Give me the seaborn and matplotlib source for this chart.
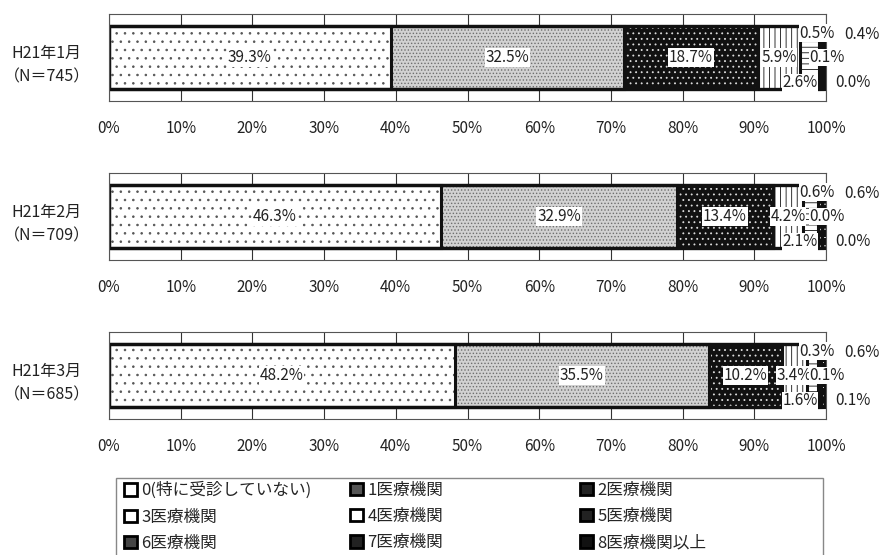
import matplotlib
matplotlib.use('Agg')
import matplotlib.pyplot as plt
from matplotlib.patches import Patch, Rectangle
import numpy as np
import pandas as pd
import seaborn as sns

sns.set_style("white")
# 日本語フォントの設定（set_style の後で指定する）
plt.rcParams['font.family'] = ['Noto Sans CJK JP', 'DejaVu Sans']
plt.rcParams['hatch.linewidth'] = 0.6

# データ
months = ['H21年1月', 'H21年2月', 'H21年3月']
n_counts = [745, 709, 685]
categories = ['0(特に受診していない)', '1医療機関', '2医療機関', '3医療機関', '4医療機関',
              '5医療機関', '6医療機関', '7医療機関', '8医療機関以上']
jan = [39.3, 32.5, 18.7, 5.9, 2.6, 0.5, 0.1, 0.4, 0.0]
feb = [46.3, 32.9, 13.4, 4.2, 2.1, 0.6, 0.0, 0.6, 0.0]
mar = [48.2, 35.5, 10.2, 3.4, 1.6, 0.3, 0.1, 0.6, 0.1]
shares = [jan, feb, mar]
ticks = list(range(0, 101, 10))

# 模様: (塗り色, ハッチ, ハッチ色)
styles = [
    ('white', '..', '#555555'),
    ('#d2d2d2', '.....', '#6f6f6f'),
    ('#111111', '...', '#dddddd'),
    ('white', '|||', '#111111'),
    ('white', '---', '#111111'),
    ('#111111', '////', 'white'),
    ('white', 'xxxx', '#555555'),
    ('#111111', '++', 'white'),
    ('#111111', '', '#111111'),
]

# 凡例の四角の色
legend_faces = ['white', '#555555', '#222222', 'white', 'white', '#222222',
                '#444444', '#222222', '#111111']

# 外側ラベルの位置 (区分番号, 100%からのずれ[pt], y, ha)
outer_labels = [(4, -6, 0.29, 'right'), (5, -19, -0.28, 'left'), (6, -12, 0.0, 'left'),
                (7, 13, -0.26, 'left'), (8, 7, 0.29, 'left')]

W, H = 882, 555
fig = plt.figure(figsize=(W / 100, H / 100), dpi=100)

panel_tops = [14, 173, 332]
frame_h = 87
left_px, right_px = 109, 826

order = categories[::-1]
for month, n, vals, top in zip(months, n_counts, shares, panel_tops):
    ax = fig.add_axes([left_px / W, 1 - (top + frame_h) / H,
                       (right_px - left_px) / W, frame_h / H])
    cum = np.cumsum(vals)
    df = pd.DataFrame({'月': month, '区分': categories, '累積': cum})

    # 累積値を大きい順に重ねて積み上げ棒を作る
    pal = {c: s[0] for c, s in zip(categories, styles)}
    sns.barplot(data=df, x='累積', y='月', hue='区分', hue_order=order, dodge=False,
                orient='h', width=0.72, palette=pal, saturation=1, legend=False,
                errorbar=None, ax=ax)
    for cont, cat in zip(ax.containers, order):
        face, hatch, hcol = styles[categories.index(cat)]
        for p in cont.patches:
            p.set_facecolor(face)
            p.set_edgecolor(hcol)
            p.set_hatch(hatch)
            p.set_linewidth(0)

    # 枠線
    n_before = len(ax.containers)
    sns.barplot(data=df, x='累積', y='月', hue='区分', hue_order=order, dodge=False,
                orient='h', width=0.72, palette={c: 'black' for c in categories},
                fill=False, legend=False, errorbar=None, ax=ax)
    for cont in ax.containers[n_before:]:
        for p in cont.patches:
            p.set_edgecolor('#111111')
            p.set_linewidth(2.2)

    # 内側のラベル
    for k in range(4):
        ax.text(cum[k] - vals[k] / 2, 0, f'{vals[k]:.1f}%', ha='center', va='center',
                fontsize=11, color='#222222',
                bbox=dict(facecolor='white', edgecolor='none', pad=0.6))
    # 右端の小さい区分のラベル
    for k, dx, y, ha in outer_labels:
        box = dict(facecolor='white', edgecolor='none', pad=0.3) if k in (4, 5, 6) else None
        ax.annotate(f'{vals[k]:.1f}%', xy=(100, y), xytext=(dx, 0),
                    textcoords='offset points', ha=ha, va='center', fontsize=11,
                    color='#222222', bbox=box, annotation_clip=False)

    ax.set_xlim(0, 100)
    ax.set_ylim(0.5, -0.5)
    ax.set_xticks(ticks)
    ax.set_xticklabels([f'{t}%' for t in ticks])
    ax.tick_params(axis='x', length=0, pad=14, labelsize=11, labelcolor='#222222')
    ax.set_yticks([])
    ax.set_xlabel('')
    ax.set_ylabel('')
    ax.grid(True, axis='x', color='#333333', linewidth=0.8)
    ax.set_axisbelow(True)
    for sp in ax.spines.values():
        sp.set_color('#555555')
        sp.set_linewidth(0.8)

    ax.text(-0.027, 0.41, f'{month}\n（N＝{n}）', transform=ax.transAxes, ha='right',
            va='center', multialignment='center', fontsize=11.5, linespacing=1.55,
            color='#222222')

# 凡例（3列、行方向に並べる）
handles = [Patch(facecolor=f, edgecolor='black', linewidth=2.0) for f in legend_faces]
col_x = [124, 350, 580]
for c, x in enumerate(col_x):
    idx = [c, c + 3, c + 6]
    fig.legend([handles[i] for i in idx], [categories[i] for i in idx],
               loc='upper left', bbox_to_anchor=(x / W, 1 - 482 / H), frameon=False,
               fontsize=12, handlelength=0.75, handleheight=0.75, handletextpad=0.3,
               labelspacing=0.55, borderpad=0, borderaxespad=0)
fig.add_artist(Rectangle((116 / W, -0.05), (823 - 116) / W, 0.05 + 1 - 478 / H,
                         transform=fig.transFigure, fill=False, edgecolor='#888888',
                         linewidth=1.0))

fig.savefig('out.png', dpi=100)
plt.close(fig)
